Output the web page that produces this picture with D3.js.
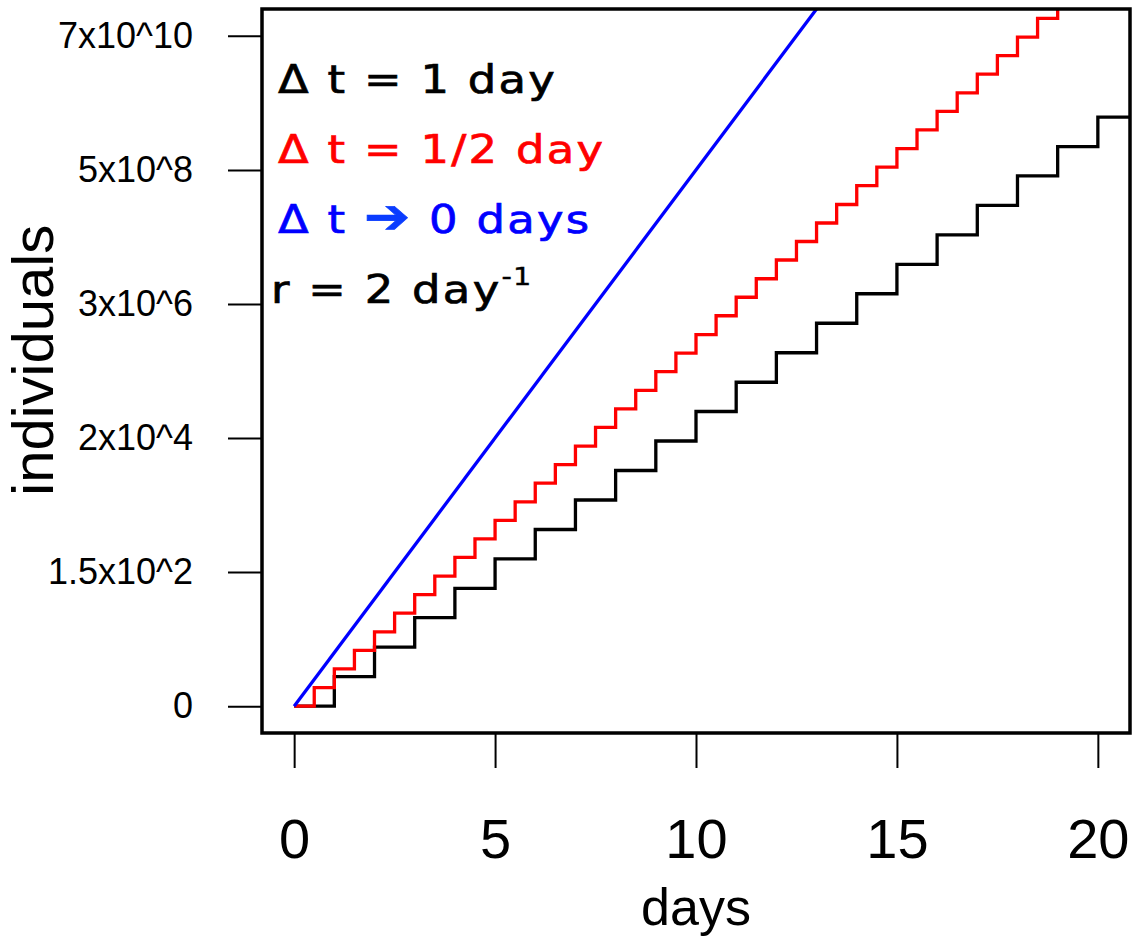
<!DOCTYPE html>
<html>
<head>
<meta charset="utf-8">
<script src="https://cdn.jsdelivr.net/npm/d3@7"></script>
<style>
  body { margin: 0; background: #fff; }
  svg { display: block; }
</style>
</head>
<body>
<svg id="chart"></svg>
<script>
// natural log of individuals
var blackDays = [0, 1, 2, 3, 4, 5, 6, 7, 8, 9, 10, 11, 12, 13, 14, 15, 16, 17, 18, 19, 20, 21];
var blackLogN = [0, 1.10, 2.20, 3.30, 4.39, 5.49, 6.59, 7.69, 8.79, 9.89, 10.99, 12.08, 13.18, 14.28,
    15.38, 16.48, 17.58, 18.68, 19.78, 20.87, 21.97, 23.07];

var redDays = [0, 0.5, 1, 1.5, 2, 2.5, 3, 3.5, 4, 4.5, 5, 5.5, 6, 6.5, 7, 7.5, 8, 8.5, 9, 9.5,
    10, 10.5, 11, 11.5, 12, 12.5, 13, 13.5, 14, 14.5, 15, 15.5, 16, 16.5, 17, 17.5, 18, 18.5, 19, 19.5];
var redLogN = [0, 0.69, 1.39, 2.08, 2.77, 3.47, 4.16, 4.85, 5.55, 6.24, 6.93, 7.62, 8.32, 9.01,
    9.70, 10.40, 11.09, 11.78, 12.48, 13.17, 13.86, 14.56, 15.25, 15.94, 16.64, 17.33, 18.02,
    18.71, 19.41, 20.10, 20.79, 21.49, 22.18, 22.87, 23.57, 24.26, 24.95, 25.65, 26.34, 27.03];

var blueDays = [0, 13.5];
var blueLogN = [0, 27];

var xTicks = [0, 5, 10, 15, 20];
var yTicks = [0, 5, 10, 15, 20, 25];
var yTickLabels = ["0", "1.5x10^2", "2x10^4", "3x10^6", "5x10^8", "7x10^10"];

var legendLabels = ["\u0394 t = 1 day", "\u0394 t = 1/2 day", "\u0394 t \u2794 0 days"];
var legendColors = ["#000", "#ff0000", "#0000ff"];

var width = 1134,
    height = 936,
    margin = {top: 9, right: 4, bottom: 203, left: 262},
    plot_w = width - margin.left - margin.right,
    plot_h = height - margin.top - margin.bottom;

var svg = d3.select("#chart")
    .attr("width", width)
    .attr("height", height);

var xScale = d3.scaleLinear().domain([-0.8, 20.8]).range([0, plot_w]);
var yScale = d3.scaleLinear().domain([-1, 26]).range([plot_h, 0]);

var g = svg.append("g")
    .attr("transform", "translate(" + margin.left + "," + margin.top + ")");

svg.append("defs").append("clipPath")
    .attr("id", "clip")
    .append("rect")
    .attr("width", plot_w)
    .attr("height", plot_h);

//axes
var xAxis = d3.axisBottom(xScale)
    .tickValues(xTicks)
    .tickSize(35)
    .tickPadding(50)
    .tickSizeOuter(0);

var yAxis = d3.axisLeft(yScale)
    .tickValues(yTicks)
    .tickSize(34)
    .tickPadding(35)
    .tickFormat(function (d, i) { return yTickLabels[i]; });

var gx = g.append("g")
    .attr("transform", "translate(0," + plot_h + ")")
    .call(xAxis);
gx.select(".domain").remove();
gx.selectAll("line").attr("stroke", "#000").attr("stroke-width", 2);
gx.selectAll("text")
    .attr("fill", "#000")
    .style("font-family", "'Liberation Sans', Arial, sans-serif")
    .style("font-size", "56px");

var gy = g.append("g").call(yAxis);
gy.select(".domain").remove();
gy.selectAll("line").attr("stroke", "#000").attr("stroke-width", 2);
gy.selectAll("text")
    .attr("fill", "#000")
    .style("font-family", "'Liberation Sans', Arial, sans-serif")
    .style("font-size", "36px");

// axis titles
svg.append("text")
    .attr("x", margin.left + xScale(10))
    .attr("y", 925)
    .attr("text-anchor", "middle")
    .style("font-family", "'Liberation Sans', Arial, sans-serif")
    .style("font-size", "52px")
    .text("days");

svg.append("text")
    .attr("transform", "translate(53," + (margin.top + yScale(12.9)) + ") rotate(-90)")
    .attr("text-anchor", "middle")
    .style("font-family", "'Liberation Sans', Arial, sans-serif")
    .style("font-size", "58px")
    .text("individuals");

// lines
var lines = g.append("g").attr("clip-path", "url(#clip)");

function stepLine(days, vals) {
    return d3.line()
        .x(function (d) { return xScale(days[d]); })
        .y(function (d) { return yScale(vals[d]); })
        .curve(d3.curveStepAfter)(d3.range(days.length));
}

lines.append("path")
    .attr("d", stepLine(blackDays, blackLogN))
    .attr("fill", "none").attr("stroke", "#000").attr("stroke-width", 3.3);

lines.append("path")
    .attr("d", stepLine(redDays, redLogN))
    .attr("fill", "none").attr("stroke", "#ff0000").attr("stroke-width", 3.3);

lines.append("path")
    .attr("d", d3.line()
        .x(function (d) { return xScale(blueDays[d]); })
        .y(function (d) { return yScale(blueLogN[d]); })(d3.range(blueDays.length)))
    .attr("fill", "none").attr("stroke", "#0000ff").attr("stroke-width", 3.3);

// box
g.append("rect")
    .attr("width", plot_w)
    .attr("height", plot_h)
    .attr("fill", "none")
    .attr("stroke", "#000")
    .attr("stroke-width", 3.5);

// legend (wide geometric look: DejaVu stretched a little)
var legendFont = "'DejaVu Sans', sans-serif";
legendLabels.forEach(function (lab, i) {
    var t = svg.append("text")
        .attr("transform", "translate(278," + (93 + i * 70) + ") scale(1.15,1)")
        .attr("fill", legendColors[i])
        .attr("stroke", legendColors[i])
        .attr("stroke-width", 0.7)
        .style("font-family", legendFont)
        .style("font-size", "39px")
        .style("letter-spacing", "2px");
    var parts = lab.split("\u2794");
    t.append("tspan").text(parts[0]);
    if (parts.length > 1) {
        t.append("tspan")
            .attr("fill", "#0a3cff").attr("stroke", "#0a3cff")
            .style("font-size", "48px")
            .text("\u2794");
        t.append("tspan").text(parts[1]);
    }
});

var rText = svg.append("text")
    .attr("transform", "translate(271,303) scale(1.15,1)")
    .attr("fill", "#000")
    .attr("stroke", "#000")
    .attr("stroke-width", 0.7)
    .style("font-family", legendFont)
    .style("font-size", "39px")
    .style("letter-spacing", "2px");
rText.append("tspan").text("r = 2 day");
rText.append("tspan")
    .attr("dy", -18)
    .attr("stroke-width", 0.4)
    .style("font-size", "25px")
    .style("letter-spacing", "1px")
    .text("-1");
</script>
</body>
</html>
